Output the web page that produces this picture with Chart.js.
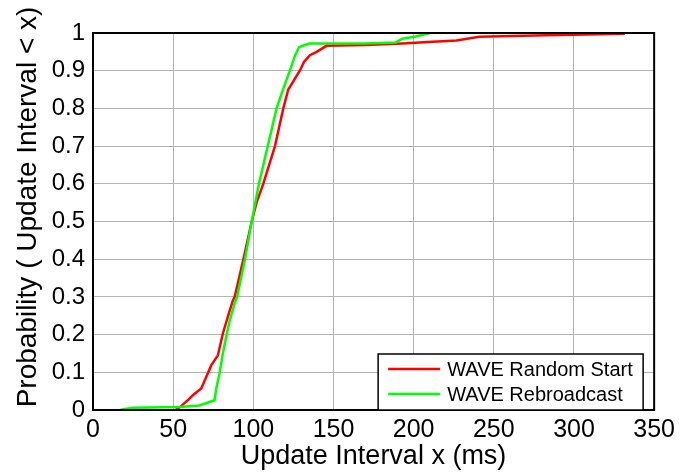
<!DOCTYPE html>
<html><head><meta charset="utf-8">
<script src="https://cdn.jsdelivr.net/npm/chart.js@4"></script>
<style>html,body{margin:0;padding:0;background:#fff}</style>
</head><body>
<canvas id="c" width="680" height="473"></canvas>
<script>
const xTicks = [0, 50, 100, 150, 200, 250, 300, 350];
const yTicks = [0, 0.1, 0.2, 0.3, 0.4, 0.5, 0.6, 0.7, 0.8, 0.9, 1];
const seriesNames = ["WAVE Random Start", "WAVE Rebroadcast"];
const xTitle = "Update Interval x (ms)";
const yTitle = "Probability ( Update Interval < x)";

const randomX = [51.6, 54, 59.2, 62.3, 67.5, 70.7, 73.8, 77.9, 81, 84.1, 87.2, 88.4, 93.8, 99, 102, 106.2, 113.5, 118.7, 121.8, 129, 131.6, 135.3, 139.5, 145.6, 170.5, 193, 212, 226.7, 241, 282.8, 331.7];
const randomY = [0, 0.007, 0.026, 0.039, 0.057, 0.088, 0.119, 0.145, 0.203, 0.247, 0.29, 0.3, 0.4, 0.5, 0.55, 0.6, 0.7, 0.8, 0.85, 0.9, 0.923, 0.941, 0.95, 0.966, 0.968, 0.972, 0.977, 0.98, 0.99, 0.994, 0.998];

const rebroadX = [17.2, 25, 54, 66.5, 75.8, 76.9, 78.9, 81, 83.1, 85.1, 88.3, 89.9, 94.8, 99, 103.5, 109, 114.5, 118.5, 122.8, 126, 128.6, 135, 169.5, 189, 193, 200.7, 210];
const rebroadY = [0.001, 0.006, 0.008, 0.012, 0.026, 0.057, 0.097, 0.15, 0.194, 0.234, 0.282, 0.3, 0.4, 0.5, 0.6, 0.7, 0.8, 0.85, 0.9, 0.94, 0.963, 0.972, 0.972, 0.975, 0.985, 0.99, 1.0];

const seriesColors = ["#ff0000", "#00ff00"];

function pts(xs, ys) { return xs.map((x, i) => ({x: x, y: ys[i]})); }

const FONT = "'Liberation Sans', Arial, sans-serif";

const framePlugin = {
  id: 'frame',
  afterDraw(chart) {
    const ctx = chart.ctx, ca = chart.chartArea;
    ctx.save();
    ctx.strokeStyle = '#000';
    ctx.lineWidth = 2;
    ctx.strokeRect(ca.left, ca.top, ca.right - ca.left, ca.bottom - ca.top);
    // y axis title
    ctx.save();
    ctx.translate(28, 207);
    ctx.rotate(-Math.PI / 2);
    ctx.font = '28px ' + FONT;
    ctx.fillStyle = '#000';
    ctx.textAlign = 'center';
    ctx.textBaseline = 'middle';
    ctx.fillText(yTitle, 0, 0);
    ctx.restore();
    // legend
    const bx = ca.right - 276, by = ca.bottom - 56, bw = 265, bh = 56;
    ctx.fillStyle = '#fff';
    ctx.fillRect(bx, by, bw, bh);
    ctx.lineWidth = 1.5;
    ctx.strokeStyle = '#000';
    ctx.strokeRect(bx, by, bw, bh);
    ctx.font = '20px ' + FONT;
    ctx.textBaseline = 'middle';
    ctx.textAlign = 'left';
    chart.data.datasets.forEach((ds, i) => {
      const y = by + 15 + i * 25;
      ctx.strokeStyle = ds.borderColor;
      ctx.lineWidth = 2.5;
      ctx.beginPath(); ctx.moveTo(bx + 10, y); ctx.lineTo(bx + 62, y); ctx.stroke();
      ctx.fillStyle = '#000';
      ctx.fillText(ds.label, bx + 69, y + 1);
    });
    ctx.restore();
  }
};

new Chart(document.getElementById('c'), {
  type: 'line',
  data: {
    datasets: [
      {label: seriesNames[0], data: pts(randomX, randomY), borderColor: seriesColors[0], borderWidth: 2.5, pointRadius: 0, tension: 0, fill: false, order: 1},
      {label: seriesNames[1], data: pts(rebroadX, rebroadY), borderColor: seriesColors[1], borderWidth: 2.5, pointRadius: 0, tension: 0, fill: false, order: 0}
    ]
  },
  options: {
    responsive: false,
    devicePixelRatio: 1,
    animation: false,
    layout: {padding: {top: 33, right: 25, left: 0, bottom: 0}},
    plugins: {legend: {display: false}, tooltip: {enabled: false}},
    scales: {
      x: {
        type: 'linear', min: 0, max: 350,
        afterBuildTicks: s => { s.ticks = xTicks.map(v => ({value: v})); },
        afterFit: s => { s.height = 63; },
        ticks: {font: {family: FONT, size: 25}, color: '#000', padding: 5, maxRotation: 0, callback: v => String(v)},
        grid: {color: '#b4b4b4', lineWidth: 1, drawTicks: false},
        border: {color: '#000', width: 2},
        title: {display: true, text: xTitle, color: '#000', font: {family: FONT, size: 27}, padding: {top: 0, bottom: 0}}
      },
      y: {
        type: 'linear', min: 0, max: 1,
        afterBuildTicks: s => { s.ticks = yTicks.map(v => ({value: v})); },
        afterFit: s => { s.width = 93; },
        ticks: {font: {family: FONT, size: 24}, color: '#000', padding: 8, callback: v => String(Math.round(v * 10) / 10)},
        grid: {color: '#b4b4b4', lineWidth: 1, drawTicks: false},
        border: {color: '#000', width: 2},
        title: {display: false, text: yTitle}
      }
    }
  },
  plugins: [framePlugin]
});
</script>
</body></html>
